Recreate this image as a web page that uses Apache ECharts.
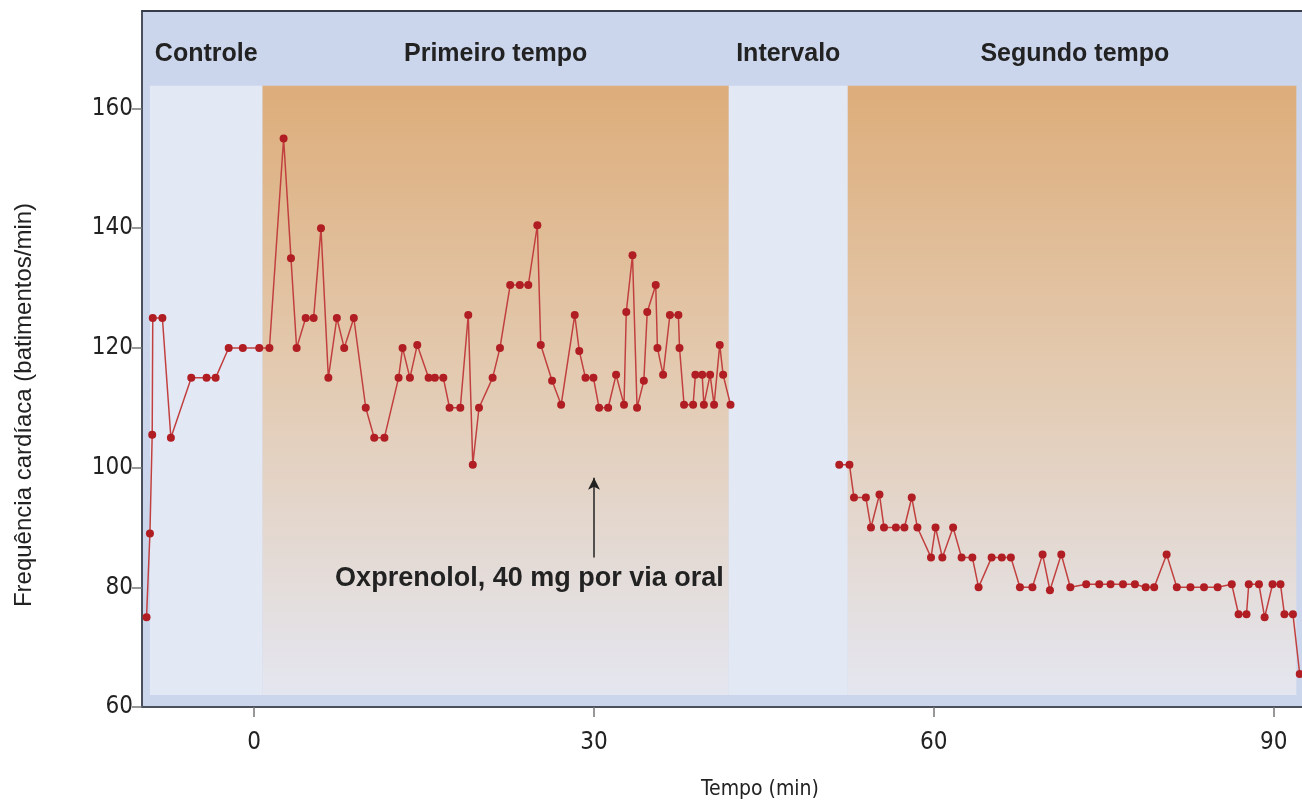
<!DOCTYPE html>
<html>
<head>
<meta charset="utf-8">
<script src="https://cdn.jsdelivr.net/npm/echarts@6/dist/echarts.min.js"></script>
<style>
html,body{margin:0;padding:0;background:#fff;}
#chart{width:1302px;height:805px;}
</style>
</head>
<body>
<div id="chart"></div>
<script>
// ---- data ----
const firstTimes = [-9.5,-9.2,-9.0,-8.95,-8.1,-7.35,-5.55,-4.2,-3.4,-2.25,-1.0,0.45,1.35,2.6,3.25,3.75,4.55,5.25,5.9,6.55,7.3,7.95,8.8,9.85,10.6,11.5,12.75,13.1,13.75,14.4,15.4,15.95,16.7,17.25,18.2,18.9,19.3,19.85,21.05,21.7,22.6,23.45,24.2,25.0,25.3,26.3,27.1,28.3,28.7,29.25,29.95,30.45,31.25,31.95,32.65,32.85,33.4,33.8,34.4,34.7,35.45,35.6,36.1,36.7,37.45,37.55,37.95,38.75,38.95,39.55,39.7,40.25,40.6,41.1,41.4,42.05];
const firstHR = [75,89,105.5,125,125,105,115,115,115,120,120,120,120,155,135,120,125,125,140,115,125,120,125,110,105,105,115,120,115,120.5,115,115,115,110,110,125.5,100.5,110,115,120,130.5,130.5,130.5,140.5,120.5,114.5,110.5,125.5,119.5,115,115,110,110,115.5,110.5,126,135.5,110,114.5,126,130.5,120,115.5,125.5,125.5,120,110.5,110.5,115.5,115.5,110.5,115.5,110.5,120.5,115.5,110.5];
const secondTimes = [51.65,52.55,52.95,54.0,54.45,55.2,55.6,56.65,57.4,58.05,58.55,59.75,60.15,60.75,61.7,62.45,63.4,63.95,65.1,66.0,66.8,67.6,68.7,69.6,70.25,71.25,72.05,73.45,74.6,75.6,76.7,77.75,78.7,79.45,80.55,81.45,82.65,83.85,85.05,86.3,86.9,87.6,87.8,88.7,89.2,89.9,90.6,90.95,91.7,92.3];
const secondHR = [100.5,100.5,95,95,90,95.5,90,90,90,95,90,85,90,85,90,85,85,80,85,85,85,80,80,85.5,79.5,85.5,80,80.5,80.5,80.5,80.5,80.5,80,80,85.5,80,80,80,80,80.5,75.5,75.5,80.5,80.5,75,80.5,80.5,75.5,75.5,65.5];
const xTicks = [0,30,60,90];
const yTicks = [60,80,100,120,140,160];
const phaseNames = ['Controle','Primeiro tempo','Intervalo','Segundo tempo'];
const phaseBounds = [-9.2,0.74,41.9,52.4,92.0];
const annotationText = 'Oxprenolol, 40 mg por via oral';
const doseTime = 30;

// ---- chart ----
const pairs = (xs, ys) => xs.map((x, i) => [x, ys[i]]);
const narrow = '"Liberation Sans Narrow","DejaVu Sans Condensed","Liberation Sans",Arial,sans-serif';
const sans = '"Liberation Sans",Arial,sans-serif';
const orangeGrad = {type:'linear',x:0,y:0,x2:0,y2:1,colorStops:[
  {offset:0,color:'#ddad7a'},{offset:0.45,color:'#e3c9ae'},{offset:1,color:'#e4e6f0'}]};
const paleBand = '#e3e8f5';
const bandTop = 163.8, bandBottom = 62, headTop = 176.3;

const bands = phaseNames.map((n, i) => [
  {xAxis: phaseBounds[i], yAxis: bandBottom, itemStyle:{color: (i % 2 === 0) ? paleBand : orangeGrad}},
  {xAxis: phaseBounds[i+1], yAxis: bandTop}
]);
const headers = phaseNames.map((n, i) => [
  {name: n, xAxis: phaseBounds[i], yAxis: bandTop},
  {xAxis: i === 3 ? 92.5 : phaseBounds[i+1], yAxis: headTop}
]);

const lineStyle = {color:'#c1403f', width:1.5};
const itemStyle = {color:'#b01d22'};

const chart = echarts.init(document.getElementById('chart'), null, {renderer:'canvas'});
chart.setOption({
  animation:false,
  grid:{left:142, right:0, top:11, bottom:98, show:true, backgroundColor:'#cbd6ed', borderWidth:0,
        outerBoundsMode:'none', containLabel:false},
  xAxis:[{
    type:'value', min:-9.9, max:92.5,
    axisLine:{show:true, onZero:false, lineStyle:{color:'#4b515c', width:2}},
    axisTick:{show:true, customValues:xTicks, length:10, lineStyle:{color:'#777', width:1.5}},
    axisLabel:{customValues:xTicks, margin:24, fontSize:24, fontFamily:narrow, color:'#222'},
    splitLine:{show:false},
    name:'Tempo (min)', nameLocation:'middle', nameGap:72,
    nameTextStyle:{fontSize:21, fontFamily:narrow, color:'#222', padding:[0,0,0,76]}
  },{
    type:'value', position:'top', min:-9.9, max:92.5,
    axisLine:{show:true, onZero:false, lineStyle:{color:'#363c4a', width:2}},
    axisTick:{show:false}, axisLabel:{show:false}, splitLine:{show:false}
  }],
  yAxis:{
    type:'value', min:60, max:176.3,
    axisLine:{show:true, onZero:false, lineStyle:{color:'#4b515c', width:2}},
    axisTick:{show:true, customValues:yTicks, length:10, lineStyle:{color:'#777', width:1.5}},
    axisLabel:{customValues:yTicks, margin:9, fontSize:24, fontFamily:narrow, color:'#222'},
    splitLine:{show:false},
    name:'Frequência cardíaca (batimentos/min)', nameLocation:'middle', nameGap:106, nameRotate:90,
    nameTextStyle:{fontSize:24, fontFamily:sans, color:'#222', padding:[0,92,0,0]}
  },
  series:[{
    type:'line', name:'bands', data:[], z:1, silent:true,
    markArea:{silent:true, data:bands, label:{show:false}}
  },{
    type:'line', name:'headers', data:[], z:2, silent:true,
    markArea:{silent:true, itemStyle:{color:'rgba(0,0,0,0)'},
      label:{show:true, position:'inside', fontSize:25, fontWeight:'bold', fontFamily:sans, color:'#222', offset:[0,6]},
      data:headers}
  },{
    type:'line', name:'first', data:pairs(firstTimes, firstHR), z:5,
    symbol:'circle', symbolSize:8, showSymbol:true, lineStyle, itemStyle
  },{
    type:'line', name:'second', data:pairs(secondTimes, secondHR), z:5, clip:false,
    symbol:'circle', symbolSize:8, showSymbol:true, lineStyle, itemStyle
  },{
    type:'line', name:'annot', data:[], z:6, silent:true,
    markLine:{silent:true, symbol:['none','arrow'], symbolSize:[9,12],
      lineStyle:{color:'#222', width:1.5, type:'solid'}, label:{show:false},
      data:[[{coord:[doseTime,85]},{coord:[doseTime,98.3]}]]},
    markPoint:{silent:true, symbol:'rect', symbolSize:[1,1], itemStyle:{color:'rgba(0,0,0,0)'},
      label:{show:true, position:'inside', formatter:annotationText, fontSize:27, fontWeight:'bold', fontFamily:sans, color:'#222'},
      data:[{coord:[24.3,81.5]}]}
  }]
});
</script>
</body>
</html>
